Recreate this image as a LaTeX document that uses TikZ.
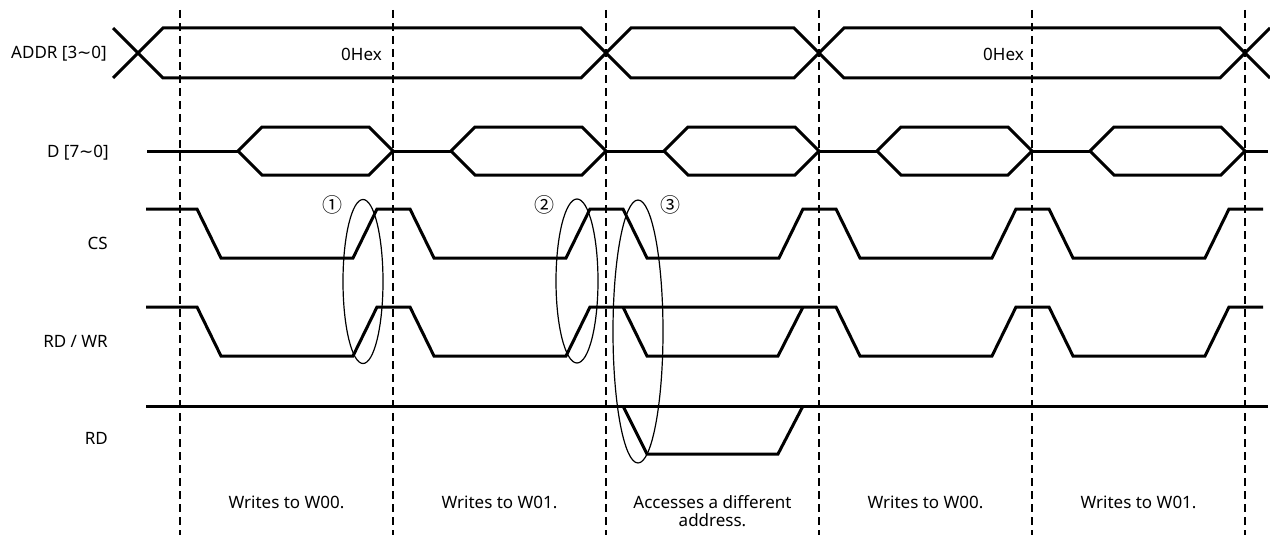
\documentclass[tikz,border=0pt]{standalone}
\usepackage{fontspec}
\setmainfont{Noto Sans}
\newfontfamily\symfont{DejaVu Sans}
\newfontfamily\circfont{Noto Sans CJK KR}
\newcommand{\wtilde}{{\symfont\char"223C}}
\begin{document}
\begin{tikzpicture}[x=1pt,y=-1pt,
  sig/.style={line width=3pt,line join=miter},
  gridline/.style={line width=1.4pt,dash pattern=on 8pt off 5pt},
  ring/.style={line width=1.2pt},
  lab/.style={font=\fontsize{17}{18}\selectfont,inner sep=0pt},
  circ/.style={font=\circfont\fontsize{20}{22}\selectfont,inner sep=0pt}]
\useasboundingbox (0,0) rectangle (1270,535);
% dashed period boundaries
\foreach \d in {180,393,606,819,1032,1245}
  \draw[gridline] (\d,10) -- (\d,535);
% ADDR bus
\draw[sig] (113,28)--(138,53)--(163,78)--(581,78)--(606,53)--(631,28)--(794,28)--(819,53)--(844,78)--(1220,78)--(1245,53)--(1270,28);
\draw[sig] (113,78)--(138,53)--(163,28)--(581,28)--(606,53)--(631,78)--(794,78)--(819,53)--(844,28)--(1220,28)--(1245,53)--(1270,78);
% D bus
\draw[sig] (147,151)--(238,151);
\foreach \d in {393,606,819,1032,1245}{
  \draw[sig] (\d-155,151)--(\d-131,127)--(\d-24,127)--(\d,151)--(\d-24,175)--(\d-131,175)--cycle;
}
\foreach \d in {393,606,819,1032}
  \draw[sig] (\d,151)--(\d+58,151);
\draw[sig] (1245,151)--(1268,151);
% CS
\draw[sig] (146,209)
  \foreach \d in {180,393,606,819,1032}{ -- (\d+17,209) -- (\d+41,258) -- (\d+173,258) -- (\d+197,209) }
  -- (1263,209);
% RD/WR
\draw[sig] (146,307)
  \foreach \d in {180,393}{ -- (\d+17,307) -- (\d+41,356) -- (\d+173,356) -- (\d+197,307) }
  \foreach \d in {819,1032}{ -- (\d+17,307) -- (\d+41,356) -- (\d+173,356) -- (\d+197,307) }
  -- (1263,307);
\draw[sig] (623,307)--(647,356)--(778,356)--(803,307);
% RD
\draw[sig] (146,406)--(1268,406);
\draw[sig] (623,406)--(647,454)--(778,454)--(803,406);
% ellipses
\draw[ring] (363,281.5) ellipse [x radius=20pt, y radius=82pt];
\draw[ring] (577,281) ellipse [x radius=21pt, y radius=82pt];
\draw[ring] (638,331.5) ellipse [x radius=25pt, y radius=131.5pt];
\node[circ] (c1) at (332,205) {①};
\node[circ] (c2) at (544,205) {②};
\node[circ] (c3) at (670,205) {③};
% signal names
\node[lab,anchor=east] (laddr) at (107,54) {ADDR [3\wtilde 0]};
\node[lab,anchor=east] (ld) at (109,153) {D [7\wtilde 0]};
\node[lab,anchor=east] (lcs) at (108,243) {CS};
\node[lab,anchor=east] (lrw) at (108,341) {RD / WR};
\node[lab,anchor=east] (lrd) at (108,438) {RD};
% bus values
\node[lab,anchor=east] (v1) at (382,54) {0Hex};
\node[lab,anchor=east] (v2) at (1024,54) {0Hex};
% period captions
\node[lab] (p1) at (286.5,502) {Writes to W00.};
\node[lab] (p2) at (499.5,502) {Writes to W01.};
\node[lab,align=center] (p3) at (712.5,511) {Accesses a different\\address.};
\node[lab] (p4) at (925.5,502) {Writes to W00.};
\node[lab] (p5) at (1138.5,502) {Writes to W01.};
\end{tikzpicture}
\end{document}
